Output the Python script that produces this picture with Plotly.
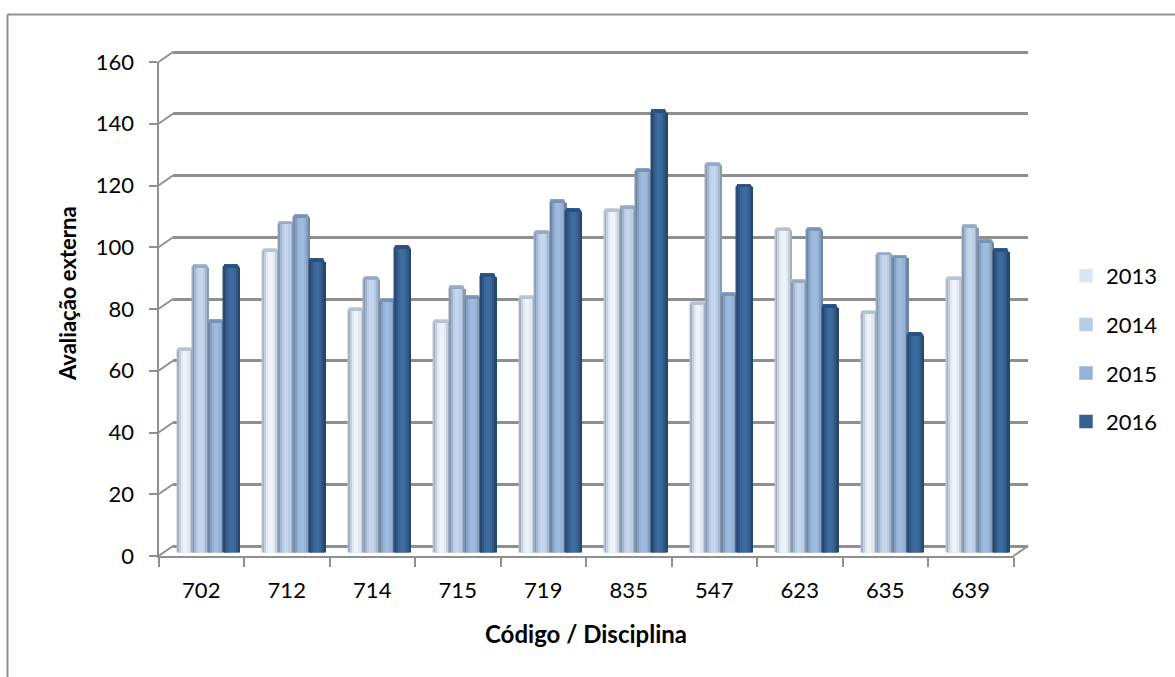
import plotly.graph_objects as go

categories = ["702", "712", "714", "715", "719", "835", "547", "623", "635", "639"]
series_names = ["2013", "2014", "2015", "2016"]
v2013 = [66, 98, 79, 75, 83, 111, 81, 105, 78, 89]
v2014 = [93, 107, 89, 86, 104, 112, 126, 88, 97, 106]
v2015 = [75, 109, 82, 83, 114, 124, 84, 105, 96, 101]
v2016 = [93, 95, 99, 90, 111, 143, 119, 80, 71, 98]
y_ticks = [0, 20, 40, 60, 80, 100, 120, 140, 160]
x_title = "Código / Disciplina"
y_title = "Avaliação externa"

W, H = 1175, 677
GRAY = "#8f8f8f"
FONT = "Lato, Carlito, Calibri, sans-serif"
FS = 22

# pixel geometry of the pseudo-3D box
FX0, FX1 = 158.5, 1013.5   # front plane
FY0, FY1 = 556.0, 62.0
DX, DY = 14.5, -10.0       # depth offset to the back wall
MX, MY = 7.0, -3.5         # plane in which the bars stand

def xdom(x0, x1):
    return [x0 / W, x1 / W]

def ydom(y0, y1):
    return [1 - y0 / H, 1 - y1 / H]

# strips across one cylinder: (start fraction, end fraction, blend toward the dark edge)
STRIPS = [(0.00, 0.10, 0.75), (0.10, 0.20, 0.40), (0.20, 0.32, 0.12),
          (0.32, 0.62, 0.0), (0.62, 0.76, 0.12), (0.76, 0.88, 0.40), (0.88, 1.00, 0.75)]
PALETTE = {
    "2013": {"base": "#DCE6F2", "mid": "#EDF3FA", "edge": "#8E9AAB"},
    "2014": {"base": "#B9CDE5", "mid": "#C3D6EE", "edge": "#76879D"},
    "2015": {"base": "#95B3D7", "mid": "#9DBBDF", "edge": "#5F7590"},
    "2016": {"base": "#376092", "mid": "#3D6A9F", "edge": "#1F3C5F"},
}

def blend(a, b, t):
    ca = [int(a[i:i + 2], 16) for i in (1, 3, 5)]
    cb = [int(b[i:i + 2], 16) for i in (1, 3, 5)]
    return "#" + "".join(f"{round(x + (y - x) * t):02X}" for x, y in zip(ca, cb))

fig = go.Figure()

# back-wall and front axes are activated first so the bars draw above the gridlines
fig.add_trace(go.Scatter(x=[categories[0]], y=[0], xaxis="x", yaxis="y", mode="markers",
                         marker=dict(opacity=0), showlegend=False, hoverinfo="skip"))
fig.add_trace(go.Scatter(x=[0], y=[0], xaxis="x2", yaxis="y2", mode="markers",
                         marker=dict(opacity=0), showlegend=False, hoverinfo="skip"))

BAR_W = 0.181   # bar width in category units
N = len(series_names)
all_vals = [v2013, v2014, v2015, v2016]
xs = list(range(len(categories)))
for i, (name, vals) in enumerate(zip(series_names, all_vals)):
    left = -N * BAR_W / 2 + i * BAR_W
    pal = PALETTE[name]
    # legend-bearing bar, entirely covered by the shaded layers above it
    fig.add_trace(go.Bar(
        x=xs, y=vals, name=name, legendgroup=name, xaxis="x3", yaxis="y3",
        width=BAR_W - 0.03, offset=left + 0.015,
        marker=dict(color=pal["base"], line=dict(color=pal["base"], width=1.5)),
        showlegend=True, hoverinfo="skip"))
    # rounded cap / silhouette
    cap = blend(pal["mid"], pal["edge"], 0.55)
    fig.add_trace(go.Bar(
        x=xs, y=vals, legendgroup=name, xaxis="x3", yaxis="y3",
        width=BAR_W, offset=left,
        marker=dict(color=cap, line=dict(color=cap, width=1), cornerradius=3),
        showlegend=False, hoverinfo="skip"))
    for a, b, t in STRIPS:
        fig.add_trace(go.Bar(
            x=xs, y=[v - 0.6 for v in vals], legendgroup=name, xaxis="x3", yaxis="y3",
            width=BAR_W * (b - a) + 0.004, offset=left + BAR_W * a,
            marker=dict(color=blend(pal["mid"], pal["edge"], t), line=dict(width=0)),
            showlegend=False, hoverinfo="skip"))

cat_range = [-0.5, len(categories) - 0.5]
shapes = []
PAD = 2  # value units added around the back wall's range so its end gridlines are kept
U = (FY0 - FY1) / 160

def py(v):
    return FY0 + (FY1 - FY0) * v / 160

def seg(x0, y0, x1, y1, width=2):
    shapes.append(dict(type="line", xref="paper", yref="paper", layer="below",
                       x0=x0 / W, x1=x1 / W, y0=1 - y0 / H, y1=1 - y1 / H,
                       line=dict(color=GRAY, width=width)))

# diagonal stubs joining the value ticks to the back wall, and floor edge
for v in y_ticks:
    seg(FX0, py(v), FX0 + DX, py(v) + DY)
seg(FX1, FY0, FX1 + DX, FY0 + DY)
# outer chart frame
seg(7.5, 14.5, W, 14.5)
seg(7.5, 14.5, 7.5, H)

fig.update_layout(
    width=W, height=H, margin=dict(l=0, r=0, t=0, b=0, autoexpand=False),
    paper_bgcolor="white", plot_bgcolor="rgba(0,0,0,0)", autosize=False,
    barmode="overlay", bargap=0, shapes=shapes, hovermode=False,
    font=dict(family=FONT, size=FS, color="#000000"),
    # front plane: tick labels, axis lines
    xaxis=dict(domain=xdom(FX0, FX1), anchor="y", type="category", categoryorder="array",
               categoryarray=categories, tickmode="array", tickvals=categories, ticktext=categories,
               range=cat_range, showgrid=False, showline=True, linecolor=GRAY, linewidth=2,
               ticks="outside", ticklen=9, tickwidth=2, tickcolor=GRAY, tickson="boundaries",
               tickfont=dict(size=FS), zeroline=False, ticklabelstandoff=14,
               title=dict(text=f"<b>{x_title}</b>", font=dict(size=24), standoff=24)),
    yaxis=dict(domain=ydom(FY0, FY1), anchor="x", range=[0, 160], tickmode="array", tickvals=y_ticks,
               showgrid=False, showline=True, linecolor=GRAY, linewidth=2, zeroline=False,
               ticks="outside", ticklen=8, tickwidth=2, tickcolor=GRAY, tickfont=dict(size=FS),
               ticklabelstandoff=10),
    # back wall: gridlines
    xaxis2=dict(domain=xdom(FX0 + DX, FX1 + DX), anchor="y2", range=[0, 1], visible=False),
    yaxis2=dict(domain=ydom(FY0 + DY + PAD * U, FY1 + DY - PAD * U), anchor="x2",
                range=[-PAD, 160 + PAD], tickmode="array",
                tickvals=y_ticks, showgrid=True, gridcolor=GRAY, gridwidth=2.5, showticklabels=False,
                ticks="", zeroline=False, showline=False),
    # bar plane
    xaxis3=dict(domain=xdom(FX0 + MX, FX1 + MX), anchor="y3", range=cat_range, visible=False),
    yaxis3=dict(domain=ydom(FY0 + MY, FY1 + MY), anchor="x3", range=[0, 160], visible=False),
    legend=dict(x=1066 / W, y=1 - 255 / H, xanchor="left", yanchor="top",
                bgcolor="rgba(0,0,0,0)", font=dict(size=FS), traceorder="grouped",
                tracegroupgap=17, itemwidth=30),
    annotations=[dict(text=f"<b>{y_title}</b>", textangle=-90, showarrow=False,
                      xref="paper", yref="paper", x=68 / W, y=1 - 294 / H,
                      xanchor="center", yanchor="middle", font=dict(size=22))],
)
fig.write_html("out.html", post_script="document.body.style.margin='0';",
               config={"displayModeBar": False})
